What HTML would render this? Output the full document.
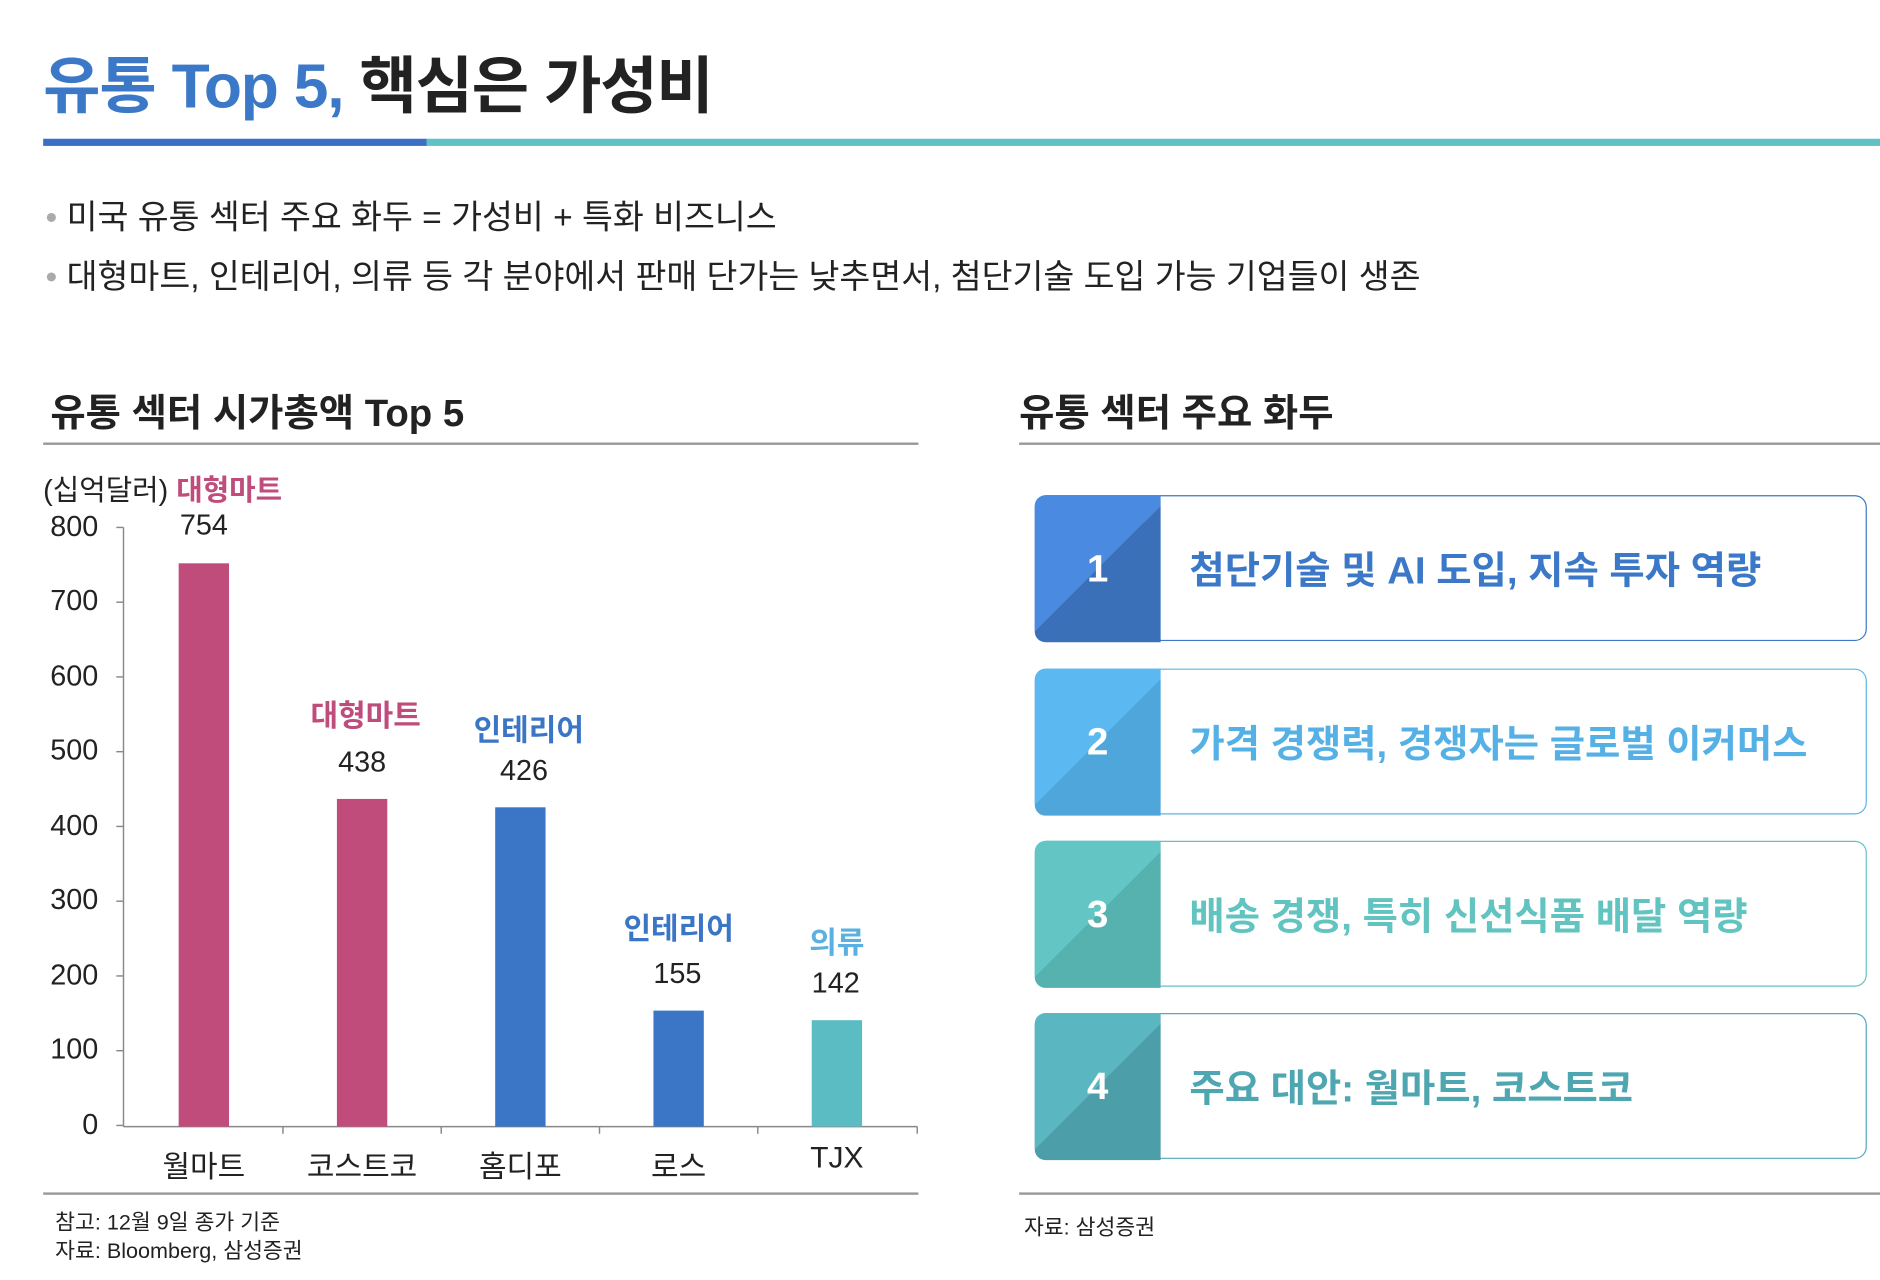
<!DOCTYPE html>
<html><head><meta charset="utf-8"><style>
html,body{margin:0;padding:0;background:#fff;width:1880px;height:1280px;overflow:hidden}
#w{position:absolute;left:0;top:0;width:1568px;height:1070px;transform:scale(1.199,1.196);transform-origin:0 0;font-family:"Liberation Sans","Noto Sans CJK KR",sans-serif;color:#222}
.a{position:absolute;white-space:nowrap}
.card{position:absolute;left:863px;width:694px;height:122px;border:1.5px solid;border-radius:10px;box-sizing:border-box}
.num{position:absolute;left:-1px;top:-1px;width:105px;height:123px;border-radius:9px 0 0 9px;color:#fff;font-size:32px;font-weight:bold;display:flex;align-items:center;justify-content:center}
.ct{position:absolute;left:128px;top:0;height:120px;display:flex;align-items:center;font-size:32px;font-weight:bold}
.yl{position:absolute;width:60px;left:22px;text-align:right;font-size:24px}
.bar{position:absolute;width:42px}
.v{position:absolute;width:120px;text-align:center;font-size:24px}
.c{position:absolute;width:140px;text-align:center;font-size:25px;font-weight:bold}
</style></head><body><div id="w">
<div class="a" style="left:36px;top:30px;font-size:52px;font-weight:bold;letter-spacing:-1px"><span style="color:#3b78c8">유통 Top 5,</span> 핵심은 가성비</div>
<div class="a" style="left:36px;top:116px;width:320px;height:6px;background:#3b70c4"></div>
<div class="a" style="left:356px;top:116px;width:1212px;height:6px;background:#5fc2c6"></div>
<div class="a" style="left:38px;top:160px;font-size:28px"><span style="color:#aaa">•</span> 미국 유통 섹터 주요 화두 = 가성비 + 특화 비즈니스</div>
<div class="a" style="left:38px;top:210px;font-size:28px"><span style="color:#aaa">•</span> 대형마트, 인테리어, 의류 등 각 분야에서 판매 단가는 낮추면서, 첨단기술 도입 가능 기업들이 생존</div>
<div class="a" style="left:42px;top:320px;font-size:32px;font-weight:bold">유통 섹터 시가총액 Top 5</div>
<div class="a" style="left:850px;top:320px;font-size:32px;font-weight:bold">유통 섹터 주요 화두</div>
<div class="a" style="left:36px;top:370px;width:730px;height:1.5px;background:#999"></div>
<div class="a" style="left:850px;top:370px;width:718px;height:1.5px;background:#999"></div>
<div class="a" style="left:36px;top:997px;width:730px;height:1.5px;background:#999"></div>
<div class="a" style="left:850px;top:997px;width:718px;height:1.5px;background:#999"></div>
<div class="a" style="left:36px;top:390px;font-size:24px">(십억달러) <b style="color:#c04c7c">대형마트</b></div>
<div class="yl" style="top:427px">800</div><div class="yl" style="top:489px">700</div><div class="yl" style="top:552px">600</div><div class="yl" style="top:614px">500</div><div class="yl" style="top:677px">400</div><div class="yl" style="top:739px">300</div><div class="yl" style="top:802px">200</div><div class="yl" style="top:864px">100</div><div class="yl" style="top:927px">0</div>
<svg class="a" style="left:0;top:0" width="800" height="1000">
<g stroke="#888" stroke-width="1.2">
<line x1="103" y1="441" x2="103" y2="942"/><line x1="103" y1="942" x2="765" y2="942"/>
<line x1="97" y1="441" x2="103" y2="441"/><line x1="97" y1="503.5" x2="103" y2="503.5"/><line x1="97" y1="566" x2="103" y2="566"/><line x1="97" y1="628.5" x2="103" y2="628.5"/><line x1="97" y1="691" x2="103" y2="691"/><line x1="97" y1="753.5" x2="103" y2="753.5"/><line x1="97" y1="816" x2="103" y2="816"/><line x1="97" y1="878.5" x2="103" y2="878.5"/><line x1="97" y1="941" x2="103" y2="941"/>
<line x1="236" y1="942" x2="236" y2="948"/><line x1="368" y1="942" x2="368" y2="948"/><line x1="500" y1="942" x2="500" y2="948"/><line x1="632" y1="942" x2="632" y2="948"/><line x1="765" y1="942" x2="765" y2="948"/>
</g></svg>
<div class="bar" style="left:149px;top:471px;height:471px;background:#c04c7c"></div>
<div class="bar" style="left:281px;top:668px;height:274px;background:#c04c7c"></div>
<div class="bar" style="left:413px;top:675px;height:267px;background:#3b76c6"></div>
<div class="bar" style="left:545px;top:845px;height:97px;background:#3b76c6"></div>
<div class="bar" style="left:677px;top:853px;height:89px;background:#5cbcc4"></div>
<div class="v" style="left:110px;top:426px">754</div>
<div class="v" style="left:242px;top:624px">438</div>
<div class="v" style="left:377px;top:631px">426</div>
<div class="v" style="left:505px;top:801px">155</div>
<div class="v" style="left:637px;top:809px">142</div>
<div class="c" style="left:235px;top:579px;color:#c04c7c">대형마트</div>
<div class="c" style="left:371px;top:591px;color:#3b76c6">인테리어</div>
<div class="c" style="left:496px;top:757px;color:#3b76c6">인테리어</div>
<div class="c" style="left:628px;top:769px;color:#5ab0e0">의류</div>
<div class="v" style="left:110px;top:956px;font-size:25px">월마트</div>
<div class="v" style="left:242px;top:956px;font-size:25px">코스트코</div>
<div class="v" style="left:374px;top:956px;font-size:25px">홈디포</div>
<div class="v" style="left:506px;top:956px;font-size:25px">로스</div>
<div class="v" style="left:638px;top:954px;font-size:25px">TJX</div>
<div class="a" style="left:46px;top:1010px;font-size:18px;line-height:24px">참고: 12월 9일 종가 기준<br>자료: Bloomberg, 삼성증권</div>
<div class="a" style="left:854px;top:1012px;font-size:18px">자료: 삼성증권</div>
<div class="card" style="top:414px;border-color:#3b78c8"><div class="num" style="background:linear-gradient(135deg,#4a8ae0 50%,#3a70b8 50%)">1</div><div class="ct" style="color:#3b78c8">첨단기술 및 AI 도입, 지속 투자 역량</div></div>
<div class="card" style="top:559px;border-color:#5ab4e8"><div class="num" style="background:linear-gradient(135deg,#5cb8f0 50%,#4ea6da 50%)">2</div><div class="ct" style="color:#55b0e6">가격 경쟁력, 경쟁자는 글로벌 이커머스</div></div>
<div class="card" style="top:703px;border-color:#62c4c0"><div class="num" style="background:linear-gradient(135deg,#64c6c4 50%,#56b2ae 50%)">3</div><div class="ct" style="color:#62c4c0">배송 경쟁, 특히 신선식품 배달 역량</div></div>
<div class="card" style="top:847px;border-color:#52aab6"><div class="num" style="background:linear-gradient(135deg,#5ab6c0 50%,#4c9ea8 50%)">4</div><div class="ct" style="color:#4ea6b0">주요 대안: 월마트, 코스트코</div></div>
</div></body></html>
